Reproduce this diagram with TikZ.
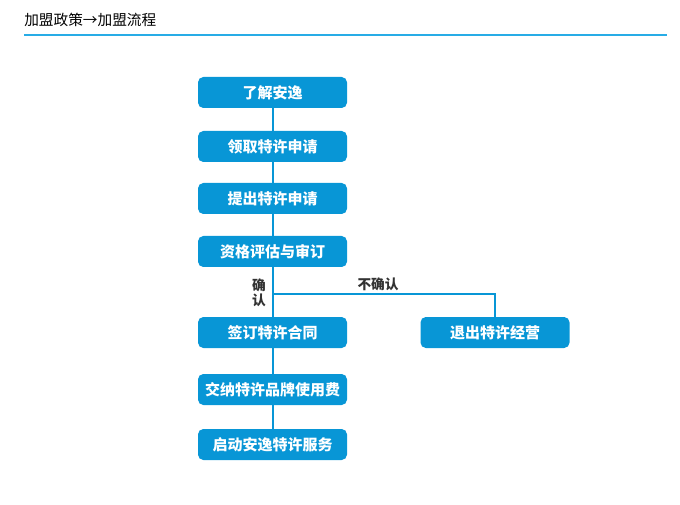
\documentclass[tikz,border=0pt]{standalone}
\usepackage{fontspec}
\setmainfont{Noto Sans CJK SC}
\definecolor{stepblue}{RGB}{8,150,214}
\definecolor{ruleblue}{RGB}{40,172,230}
\definecolor{labelgray}{RGB}{50,50,50}

\begin{document}
\begin{tikzpicture}[x=0.75pt,y=-0.75pt]
    \tikzstyle{stepbox}=[rectangle,rounded corners=4pt,fill=stepblue,text=white,
        minimum width=111.75pt,minimum height=23.25pt,inner sep=0pt,
        font=\bfseries\fontsize{11.25}{13}\selectfont]
    \tikzstyle{link}=[draw=stepblue,line width=1.5pt]
    \tikzstyle{annot}=[text=labelgray,inner sep=0pt,
        font=\bfseries\fontsize{10.25}{12}\selectfont]
    \useasboundingbox (0,0) rectangle (680,505);
    % Title and rule
    \node[anchor=west,inner sep=0pt,font=\fontsize{11}{13}\selectfont] (title) at (24,20) {加盟政策→加盟流程};
    \coordinate (rule-l) at (24,35);
    \coordinate (rule-r) at (667,35);
    \draw[draw=ruleblue,line width=1.5pt] (rule-l) -- (rule-r);
    % Draw the main steps
    \foreach \name / \y / \txt in {1/92.5/了解安逸, 2/146.5/领取特许申请, 3/198.5/提出特许申请,
        4/251.5/资格评估与审订, 5/332.5/签订特许合同, 6/389.5/交纳特许品牌使用费, 7/444.5/启动安逸特许服务}
        \node[stepbox] (S-\name) at (272.5,\y) {\txt};
    % Exit step
    \node[stepbox] (X) at (495,332.5) {退出特许经营};
    % connect nodes
    \foreach \source/\dest in {1/2,2/3,3/4,4/5,5/6,6/7}
        \path[link] (S-\source) -- (S-\dest);
    \coordinate (br) at (272.5,294);
    \path[link] (br) -| (X.north);
    % Annotate the branches
    \node[annot,align=center] (yes) at (259,292.5) {确\\[-1pt]认};
    \node[annot] (no) at (378,284) {不确认};
\end{tikzpicture}
\end{document}
